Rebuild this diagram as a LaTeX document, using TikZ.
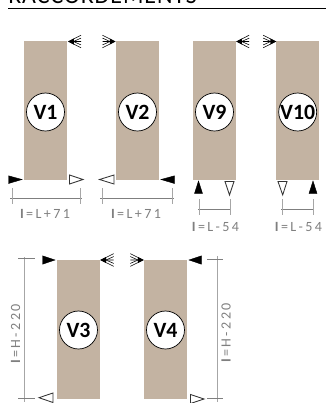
\documentclass[tikz,border=0pt]{standalone}
\usepackage{fontspec}
\setmainfont{Carlito}
\newfontfamily\dimfont[LetterSpace=17]{Carlito}
\newfontfamily\headfont[LetterSpace=4]{Carlito}
\usepackage{tikz}
\definecolor{panelcol}{HTML}{C3B3A2}
\definecolor{dimcol}{HTML}{7F7F7F}
\definecolor{tickcol}{HTML}{A6A6A6}
\tikzset{
  panel/.style={fill=panelcol},
  badge/.style={circle, draw=black, fill=white, line width=0.5pt, minimum size=27pt, inner sep=0pt, font=\bfseries\fontsize{15.5}{0}\selectfont},
  solidmark/.style={fill=black, draw=black, line width=0.3pt},
  openmark/.style={draw=black!80, fill=white, line width=0.6pt},
  feather/.style={draw=black, line width=0.4pt},
  dimline/.style={draw=dimcol, line width=0.45pt},
  dimtick/.style={draw=tickcol, line width=0.7pt},
  dimlabel/.style={text=dimcol, inner sep=0pt, font=\dimfont\fontsize{10}{0}\selectfont}
}
% fan of three barbs on a small solid head: tip, then signed length
\newcommand{\fanmark}[3]{
  \fill (#1+#3*0.42,#2-3) -- (#1,#2) -- (#1+#3*0.42,#2+3) -- cycle;
  \draw[feather] (#1+#3,#2-6.3) -- (#1,#2) -- (#1+#3,#2+6.3) (#1,#2) -- (#1+#3,#2);
  \draw[feather] (#1+#3,#2-3.4) -- (#1+#3*0.4,#2) -- (#1+#3,#2+3.4);
}
\begin{document}
\begin{tikzpicture}[x=0.025cm, y=-0.025cm]
\useasboundingbox (0,0) rectangle (326,403);

\node[anchor=base west, inner sep=0pt, font=\headfont\fontsize{17}{0}\selectfont] (title) at (8,3) {RACCORDEMENTS};
\coordinate (ruleL) at (8,8);
\coordinate (ruleR) at (326,8);
\draw[line width=0.6pt] (ruleL)--(ruleR);

% upper row
\fill[panel] (24,41) rectangle (67,180);
\fill[panel] (116,41) rectangle (159,180);
\fill[panel] (193,41) rectangle (236,180);
\fill[panel] (276,41) rectangle (319,180);

\node[badge] (V1) at (45.5,112) {V1};
\node[badge] (V2) at (137.5,112) {V2};
\node[badge] (V9) at (214.5,112) {V9};
\node[badge] (V10) at (297.7,112) {V10};

\fanmark{68.5}{41.5}{12.5}
\fanmark{115}{41.5}{-12.5}
\fanmark{236.7}{41.5}{12.5}
\fanmark{275.7}{41.5}{-12.5}

\filldraw[solidmark] (8.5,175.8) -- (22,179.5) -- (8.5,183.5) -- cycle;
\filldraw[openmark] (69.5,175) -- (83,179.5) -- (69.5,184) -- cycle;
\filldraw[openmark] (114,175) -- (99.5,179.5) -- (114,184) -- cycle;
\filldraw[solidmark] (174.5,175.8) -- (161,179.5) -- (174.5,183.5) -- cycle;

\filldraw[solidmark] (194.5,193.5) -- (198.5,181) -- (202.5,193.5) -- cycle;
\filldraw[openmark] (225,181.5) -- (229.5,195) -- (234,181.5) -- cycle;
\filldraw[openmark] (278,181.5) -- (282.7,195) -- (287,181.5) -- cycle;
\filldraw[solidmark] (309,193.5) -- (313,181) -- (317,193.5) -- cycle;

% upper dimensions
\coordinate (a1) at (10,198);
\coordinate (a2) at (82,198);
\draw[dimline] (a1)--(a2);
\draw[dimtick] (12,188)--(12,204) (80,188)--(80,204);
\node[dimlabel] (la) at (45,213.5) {\textbf{I}=L+71};

\coordinate (b1) at (100,198);
\coordinate (b2) at (174,198);
\draw[dimline] (b1)--(b2);
\draw[dimtick] (102,188)--(102,204) (172,188)--(172,204);
\node[dimlabel] (lb) at (136,213.5) {\textbf{I}=L+71};

\coordinate (c1) at (198,209);
\coordinate (c2) at (231,209);
\draw[dimline] (c1)--(c2);
\draw[dimtick] (199,199)--(199,215) (230,199)--(230,215);
\node[dimlabel] (lc) at (215.5,227) {\textbf{I}=L-54};

\coordinate (d1) at (281,209);
\coordinate (d2) at (314,209);
\draw[dimline] (d1)--(d2);
\draw[dimtick] (282,199)--(282,215) (313,199)--(313,215);
\node[dimlabel] (ld) at (298.5,227) {\textbf{I}=L-54};

% lower row
\fill[panel] (57,260) rectangle (100,399);
\fill[panel] (144,260) rectangle (187,399);

\node[badge] (V3) at (78.5,330) {V3};
\node[badge] (V4) at (165.5,330) {V4};

\fanmark{100.7}{260}{13}
\fanmark{143.3}{260}{-13}

\filldraw[solidmark] (42.5,255.8) -- (55,260) -- (42.5,264.2) -- cycle;
\filldraw[solidmark] (201.5,255.8) -- (189,260) -- (201.5,264.2) -- cycle;
\filldraw[openmark] (53,393) -- (39,397.7) -- (53,402.5) -- cycle;
\filldraw[openmark] (190.5,394.5) -- (204,399) -- (190.5,403.5) -- cycle;

% lower dimensions
\coordinate (e1) at (24,257);
\coordinate (e2) at (24,402);
\draw[dimtick] (e1)--(e2);
\draw[dimline] (18,258.5)--(35,258.5) (18,398)--(35,398);
\node[dimlabel, rotate=90] (le) at (15.7,334) {\textbf{I}=H-220};

\coordinate (f1) at (217,256);
\coordinate (f2) at (217,402);
\draw[dimtick] (f1)--(f2);
\draw[dimline] (207,259)--(223,259) (207,398)--(223,398);
\node[dimlabel, rotate=90] (lf) at (226,333) {\textbf{I}=H-220};
\end{tikzpicture}
\end{document}
